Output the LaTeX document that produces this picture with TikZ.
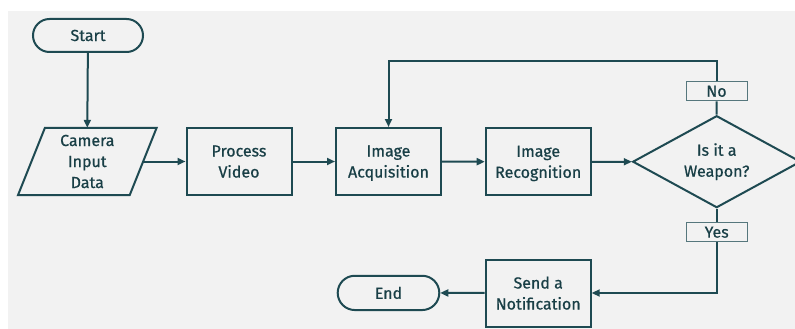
\documentclass[tikz,border=0pt]{standalone}
\usepackage{fontspec}
\setmainfont{Fira Sans}[UprightFeatures={FakeBold=0.7}]
\usetikzlibrary{shapes.geometric,shapes.misc,arrows.meta}
\definecolor{ink}{HTML}{1E4A52}
\definecolor{bg}{HTML}{F2F2F2}
\begin{document}
\begin{tikzpicture}[x=1pt,y=-1pt,
  every node/.style={font=\fontsize{16}{21}\selectfont, text=ink!85!black, align=center},
  box/.style={draw=ink, line width=2pt, rectangle, minimum width=105pt, minimum height=67pt, inner sep=0pt, text depth=0pt},
  term/.style={draw=ink, line width=2pt, rounded rectangle, minimum width=110pt, minimum height=33pt, inner sep=0pt},
  lbl/.style={draw=ink!75, line width=1pt, fill=bg, minimum width=61pt, minimum height=19pt, inner sep=0pt},
  dec/.style={draw=ink, line width=2pt, diamond, aspect=1.82, minimum width=168pt, minimum height=92pt, inner sep=0pt},
  conn/.style={draw=ink, line width=2pt},
  arr/.style={conn, -{Triangle[length=8pt,width=7pt]}}
]
\useasboundingbox (0,0) rectangle (795,329);
\fill[bg] (8,11) rectangle (795,329);
\node[term] (start) at (88,35.5) {Start};
\node[minimum width=111.3pt, minimum height=67pt, inner sep=0pt] (cam) at (87.3,161.5) {Camera\\Input\\Data};
\draw[conn, line join=miter] ([xshift=13.5pt]cam.north west) -- ([xshift=13.5pt]cam.north east) -- ([xshift=-13.5pt]cam.south east) -- ([xshift=-13.5pt]cam.south west) -- cycle;
\node[box] (pv) at (239,161.5) {Process\\Video};
\node[box] (ia) at (388.5,161.5) {Image\\Acquisition};
\node[box] (ir) at (538.2,161.8) {Image\\Recognition};
\node[dec] (dia) at (716.7,161.7) {Is it a\\Weapon?};
\node[lbl] (no) at (716.5,91.3) {No};
\node[lbl] (yes) at (716.7,232.2) {Yes};
\node[box] (sn) at (538.2,293) {Send a\\Notification};
\node[term, minimum width=101.6pt, minimum height=34.3pt] (end) at (388.5,292.9) {End};
\coordinate (loop) at (716.5,61);
\draw[arr] (start) -- (cam.north);
\draw[arr] (cam.east) -- (pv.west);
\draw[arr] (pv) -- (ia);
\draw[arr] (ia) -- (ir);
\draw[arr] (ir) -- (dia);
\draw[conn] (dia.north) -- (no.south);
\draw[arr] (no.north) -- (loop) -| (ia.north);
\draw[conn] (dia.south) -- (yes.north);
\draw[arr] (yes.south) |- (sn.east);
\draw[arr] (sn) -- (end);
\end{tikzpicture}
\end{document}
